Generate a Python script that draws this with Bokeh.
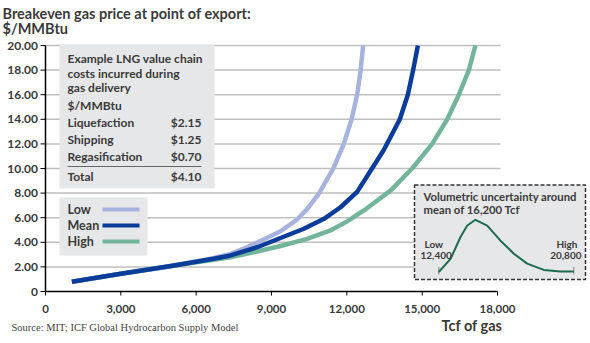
from bokeh.plotting import figure
from bokeh.models import Range1d
from bokeh.core.properties import value
from bokeh.embed import file_html
from bokeh.resources import INLINE

# ---------------- data ----------------
low_x = [1050, 3000, 5000, 6000, 6700, 7370, 8030, 8700, 9360, 10020, 10420, 10880, 11460, 11880, 12190, 12410, 12550, 12650]
low_y = [0.8, 1.45, 2.1, 2.45, 2.72, 3.06, 3.6, 4.25, 4.9, 5.85, 6.7, 7.94, 10.0, 12.0, 14.0, 16.0, 18.0, 20.0]

mean_x = [1050, 3000, 5000, 6000, 6700, 7370, 8430, 9360, 10290, 11090, 11750, 12410, 12940, 13470, 13700, 14110, 14430, 14640, 14830]
mean_y = [0.8, 1.45, 2.08, 2.42, 2.66, 2.93, 3.6, 4.35, 5.1, 5.91, 6.85, 8.1, 9.8, 11.5, 12.4, 14.0, 16.0, 18.0, 20.0]

high_x = [1050, 3000, 5000, 6000, 6700, 7370, 8430, 9360, 10420, 11350, 12010, 12680, 13740, 14600, 15400, 16000, 16460, 16860, 17120]
high_y = [0.8, 1.45, 2.05, 2.38, 2.58, 2.79, 3.25, 3.7, 4.28, 4.96, 5.7, 6.59, 8.2, 10.0, 12.0, 14.0, 16.0, 18.0, 20.0]

series_names = ["Low", "Mean", "High"]

x_ticks = [0, 3000, 6000, 9000, 12000, 15000, 18000]
x_tick_labels = ["0", "3,000", "6,000", "9,000", "12,000", "15,000", "18,000"]
y_ticks = [0, 2, 4, 6, 8, 10, 12, 14, 16, 18, 20]
y_tick_labels = ["0", "2.00", "4.00", "6.00", "8.00", "10.00", "12.00", "14.00", "16.00", "18.00", "20.00"]

cost_items = ["Liquefaction", "Shipping", "Regasification"]
cost_values = [2.15, 1.25, 0.70]
cost_total = 4.10

dist_x = [12400, 13130, 13750, 14170, 14680, 15410, 16240, 17070, 17900, 18930, 19970, 20800]
dist_y = [0.0, 0.25, 0.67, 0.89, 1.0, 0.89, 0.60, 0.35, 0.16, 0.04, 0.01, 0.01]
dist_low, dist_high, dist_mean = 12400, 20800, 16200

# ---------------- layout helpers ----------------
W, H = 590, 343
FL, FT, FB = 45, 45, 291          # plot area left, top, bottom (px)
PXX = 452 / 18000                 # px per Tcf
PXY = (FB - FT) / 20              # px per $/MMBtu


def dx(px):
    return (px - FL) / PXX


def dy(py):
    return (FB - py) / PXY


FONT = "Lato"
DARK = "#3a3a3a"
BOXFILL = "#e6e7e8"
colors = {"Low": "#a7b2df", "Mean": "#0a3c99", "High": "#72b59b"}

p = figure(width=W, height=H, x_range=Range1d(dx(0), dx(W)), y_range=Range1d(dy(H), dy(0)),
           min_border=0, toolbar_location=None, x_axis_type=None, y_axis_type=None,
           output_backend="svg")
p.outline_line_color = None
p.xgrid.visible = False
p.ygrid.visible = False

# gridlines
gy = y_ticks[1:]
p.segment(x0=[0] * len(gy), x1=[dx(500)] * len(gy), y0=gy, y1=gy,
          line_color="#bfbfbf", line_width=1.5)

# axes (drawn through the data scales)
p.segment(x0=[x_ticks[0], x_ticks[0]], x1=[x_ticks[-1], x_ticks[0]],
          y0=[y_ticks[0], y_ticks[0]], y1=[y_ticks[0], y_ticks[-1]],
          line_color="black", line_width=1.5)
p.segment(x0=[dx(40)] * len(y_ticks), x1=[0] * len(y_ticks), y0=y_ticks, y1=y_ticks,
          line_color="black", line_width=1)
p.segment(x0=x_ticks, x1=x_ticks, y0=[0] * len(x_ticks), y1=[dy(295)] * len(x_ticks),
          line_color="black", line_width=1)
p.text(x=[dx(37.5)] * len(y_ticks), y=y_ticks, text=y_tick_labels,
       text_font=value(FONT), text_font_style="bold", text_font_size="12px",
       text_color=DARK, text_baseline="middle", text_align="right")
p.text(x=x_ticks, y=[dy(308)] * len(x_ticks), text=x_tick_labels,
       text_font=value(FONT), text_font_style="bold", text_font_size="11.5px",
       text_color=DARK, text_baseline="middle", text_align="center")

# table box
p.quad(left=dx(59), right=dx(214), top=dy(44), bottom=dy(188),
       fill_color=BOXFILL, line_color=None)
# legend box
p.quad(left=dx(59), right=dx(147), top=dy(197), bottom=dy(255),
       fill_color=BOXFILL, line_color=None)
# inset box
p.quad(left=dx(414), right=dx(585), top=dy(184.5), bottom=dy(279),
       fill_color=BOXFILL, line_color="#333333", line_width=1.5, line_dash="4 2")

# curves
for name, xs, ys in (("Low", low_x, low_y), ("High", high_x, high_y), ("Mean", mean_x, mean_y)):
    p.line(xs, ys, line_color=colors[name], line_width=4.5, line_join="round")

# table text
TS = "12px"
title_lines = ["Example LNG value chain", "costs incurred during", "gas delivery", "$/MMBtu"]
tl_y = [58, 73, 87, 105]
p.text(x=[dx(67)] * 4, y=[dy(v) for v in tl_y], text=title_lines,
       text_font=value(FONT), text_font_style="bold", text_font_size=TS,
       text_color=DARK, text_baseline="middle", text_align="left")
row_y = [dy(122), dy(139), dy(156)]
p.text(x=[dx(67)] * 3, y=row_y, text=cost_items,
       text_font=value(FONT), text_font_style="bold", text_font_size=TS,
       text_color=DARK, text_baseline="middle", text_align="left")
p.text(x=[dx(201)] * 3, y=row_y, text=["$%.2f" % v for v in cost_values],
       text_font=value(FONT), text_font_style="bold", text_font_size=TS,
       text_color=DARK, text_baseline="middle", text_align="right")
p.segment(x0=[dx(67)], x1=[dx(201)], y0=[dy(166)], y1=[dy(166)],
          line_color="#666666", line_width=1)
p.text(x=[dx(67), dx(201)], y=[dy(176)] * 2, text=["Total", "$%.2f" % cost_total],
       text_font=value(FONT), text_font_style="bold", text_font_size=TS,
       text_color=DARK, text_baseline="middle", text_align=["left", "right"])

# legend
leg_y = [dy(209), dy(225), dy(241)]
p.text(x=[dx(67)] * 3, y=leg_y, text=series_names,
       text_font=value(FONT), text_font_style="bold", text_font_size="12.5px",
       text_color=DARK, text_baseline="middle", text_align="left")
p.segment(x0=[dx(102)] * 3, x1=[dx(139)] * 3, y0=leg_y, y1=leg_y,
          line_color=[colors[n] for n in series_names], line_width=4)

# inset distribution
sx = 135 / (dist_high - dist_low)
x_start = dist_low - (438.3 - 0) / sx
p.extra_x_ranges = {"dist_x": Range1d(x_start, x_start + W / sx)}
sy = 52.2
y_start = -(H - 271.5) / sy
p.extra_y_ranges = {"dist_y": Range1d(y_start, y_start + H / sy)}
p.segment(x0=[dist_low, dist_high], x1=[dist_low, dist_high], y0=[-0.05] * 2, y1=[0.1] * 2,
          line_color="#888888", line_width=1, x_range_name="dist_x", y_range_name="dist_y")
p.line(dist_x, dist_y, line_color="#1d6b4e", line_width=2,
       x_range_name="dist_x", y_range_name="dist_y")
p.text(x=[dx(423)] * 2, y=[dy(196), dy(209)],
       text=["Volumetric uncertainty around", "mean of {:,} Tcf".format(dist_mean)],
       text_font=value(FONT), text_font_style="bold", text_font_size="11.3px",
       text_color=DARK, text_baseline="middle", text_align="left")
p.text(x=[dx(424), dx(420), dx(577), dx(581)], y=[dy(243), dy(255), dy(243), dy(255)],
       text=["Low", "{:,}".format(dist_low), "High", "{:,}".format(dist_high)],
       text_font=value(FONT), text_font_style="bold", text_font_size="10px",
       text_color=DARK, text_baseline="middle",
       text_align=["left", "left", "right", "right"])

# titles and notes
p.text(x=[dx(2)] * 2, y=[dy(13), dy(28)],
       text=["Breakeven gas price at point of export:", "$/MMBtu"],
       text_font=value(FONT), text_font_style="bold", text_font_size="14.5px",
       text_color=DARK, text_baseline="middle", text_align="left")
p.text(x=[dx(502)], y=[dy(325)], text=["Tcf of gas"],
       text_font=value(FONT), text_font_style="bold", text_font_size="14.5px",
       text_color=DARK, text_baseline="middle", text_align="right")
p.text(x=[dx(11)], y=[dy(327)], text=["Source: MIT; ICF Global Hydrocarbon Supply Model"],
       text_font=value("Liberation Serif"), text_font_size="10.5px",
       text_color="#444444", text_baseline="middle", text_align="left")

open("out.html", "w").write(file_html(p, INLINE))
